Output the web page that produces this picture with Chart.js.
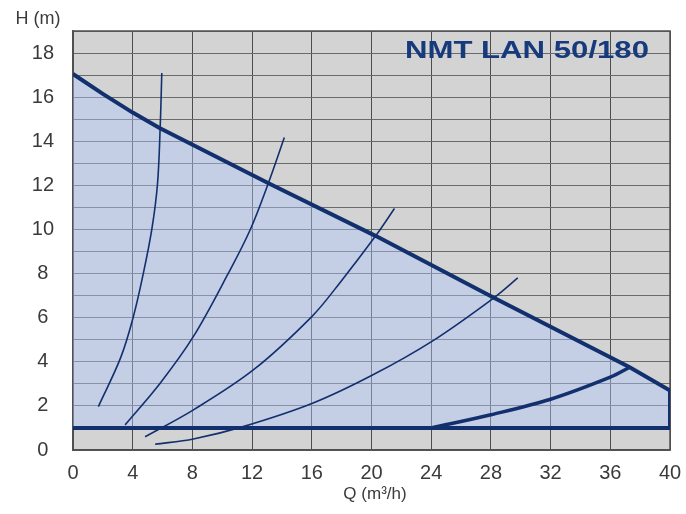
<!DOCTYPE html>
<html>
<head>
<meta charset="utf-8">
<script src="https://cdn.jsdelivr.net/npm/chart.js@4"></script>
<style>
    html, body { margin: 0; padding: 0; background: #ffffff; }
    #wrap { width: 686px; height: 514px; }
</style>
</head>
<body>
<div id="wrap"><canvas id="pumpChart"></canvas></div>
<script>
// max speed curve (Q m3/h, H m)
const maxQ = [0, 2, 4, 5.8, 13.1, 20.3, 28.2, 37.3, 40, 40];
const maxH = [17.05, 16.15, 15.3, 14.6, 12.1, 9.7, 6.9, 3.75, 2.7, 1.0];
// min head line
const minQ = [0, 40];
const minH = [1.0, 1.0];
// lower limit curve
const lowQ = [24, 28, 32, 36, 37.3];
const lowH = [1.0, 1.6, 2.3, 3.3, 3.75];
// system curves
const c1Q = [1.7, 3.2, 4.05, 4.72, 5.28, 5.66, 5.84, 5.95];
const c1H = [1.97, 4.2, 6.06, 8.03, 10.0, 12.05, 14.6, 17.1];
const c2Q = [3.49, 5.84, 8.07, 10.42, 11.88, 13.1, 14.16];
const c2H = [1.14, 3.03, 5.15, 8.03, 10.0, 12.12, 14.17];
const c3Q = [4.83, 8.07, 12.1, 16.0, 17.9, 20.27, 21.54];
const c3H = [0.6, 1.82, 3.64, 6.05, 7.6, 9.7, 10.95];
const c4Q = [5.5, 8.07, 11.4, 16.05, 20.1, 24.1, 28.2, 29.8];
const c4H = [0.26, 0.5, 1.06, 2.12, 3.41, 4.95, 6.9, 7.8];

const xTicks = [0, 4, 8, 12, 16, 20, 24, 28, 32, 36, 40];
const yLabels = [0, 2, 4, 6, 8, 10, 12, 14, 16, 18];

const chartTitle = "NMT LAN 50/180";
const xTitle = "Q (m³/h)";
const yTitle = "H (m)";

const navy = "#12306e";
const toPoints = (qs, hs) => qs.map((q, i) => ({ x: q, y: hs[i] }));

const thin = (qs, hs) => ({
    data: toPoints(qs, hs),
    borderColor: navy,
    borderWidth: 1.6,
    pointRadius: 0,
    showLine: true,
    fill: false,
    tension: 0.35,
    order: 0
});

const decor = {
    id: "decor",
    beforeDraw(chart) {
        const { ctx, chartArea: a } = chart;
        ctx.save();
        ctx.fillStyle = "#d3d3d3";
        ctx.fillRect(a.left, a.top, a.right - a.left, a.bottom - a.top);
        ctx.restore();
    },
    beforeDatasetsDraw(chart) {
        const { ctx, chartArea: a } = chart;
        ctx.save();
        ctx.strokeStyle = "#505050";
        ctx.lineWidth = 1.5;
        ctx.strokeRect(a.left, a.top, a.right - a.left, a.bottom - a.top);
        ctx.restore();
    },
    afterDraw(chart) {
        const { ctx } = chart;
        ctx.save();
        ctx.fillStyle = "#3a3a3a";
        ctx.font = "18px 'Liberation Sans', Arial, sans-serif";
        ctx.textAlign = "center";
        ctx.textBaseline = "middle";
        ctx.fillText(yTitle, 38, 19);
        ctx.font = "17px 'Liberation Sans', Arial, sans-serif";
        ctx.fillText(xTitle, 375, 494);

        // stretched bold title
        ctx.font = "bold 23px 'Liberation Sans', Arial, sans-serif";
        const w = ctx.measureText(chartTitle).width;
        ctx.translate(527, 52);
        ctx.scale(244 / w, 1);
        ctx.fillStyle = "#163a7c";
        ctx.fillText(chartTitle, 0, 0);
        ctx.restore();
    }
};

new Chart(document.getElementById("pumpChart"), {
    type: "scatter",
    data: {
        datasets: [
            {
                data: toPoints(maxQ, maxH),
                borderColor: navy,
                borderWidth: 4,
                pointRadius: 0,
                showLine: true,
                fill: { value: 1 },
                backgroundColor: "rgba(176, 201, 255, 0.42)",
                order: 5
            },
            {
                data: toPoints(minQ, minH),
                borderColor: navy,
                borderWidth: 4,
                pointRadius: 0,
                showLine: true,
                order: 0
            },
            {
                data: toPoints(lowQ, lowH),
                borderColor: navy,
                borderWidth: 3.5,
                pointRadius: 0,
                showLine: true,
                tension: 0.35,
                order: 0
            },
            thin(c1Q, c1H),
            thin(c2Q, c2H),
            thin(c3Q, c3H),
            thin(c4Q, c4H)
        ]
    },
    options: {
        responsive: true,
        maintainAspectRatio: false,
        animation: false,
        layout: { padding: { top: 31, right: 16, left: 0, bottom: 0 } },
        plugins: { legend: { display: false }, tooltip: { enabled: false } },
        scales: {
            x: {
                type: "linear",
                min: 0,
                max: 40,
                afterBuildTicks: (scale) => { scale.ticks = xTicks.map((v) => ({ value: v })); },
                afterFit: (scale) => {
                    scale.height = 64;
                    scale.paddingRight = 0;
                    scale.paddingLeft = 0;
                },
                grid: { color: "#4d4d4d", lineWidth: 1, drawTicks: false },
                border: { color: "#505050", width: 1.5 },
                ticks: {
                    color: "#3a3a3a",
                    padding: 11,
                    autoSkip: false,
                    maxRotation: 0,
                    font: { family: "'Liberation Sans', Arial, sans-serif", size: 20 }
                }
            },
            y: {
                min: 0,
                max: 19,
                afterFit: (scale) => { scale.width = 73; },
                grid: { color: "#6a6a6a", lineWidth: 1, drawTicks: false },
                border: { color: "#505050", width: 1.5 },
                ticks: {
                    stepSize: 1,
                    autoSkip: false,
                    color: "#3a3a3a",
                    padding: 19,
                    crossAlign: "center",
                    font: { family: "'Liberation Sans', Arial, sans-serif", size: 20 },
                    callback: (v) => (yLabels.includes(v) ? String(v) : "")
                }
            }
        }
    },
    plugins: [decor]
});
</script>
</body>
</html>
